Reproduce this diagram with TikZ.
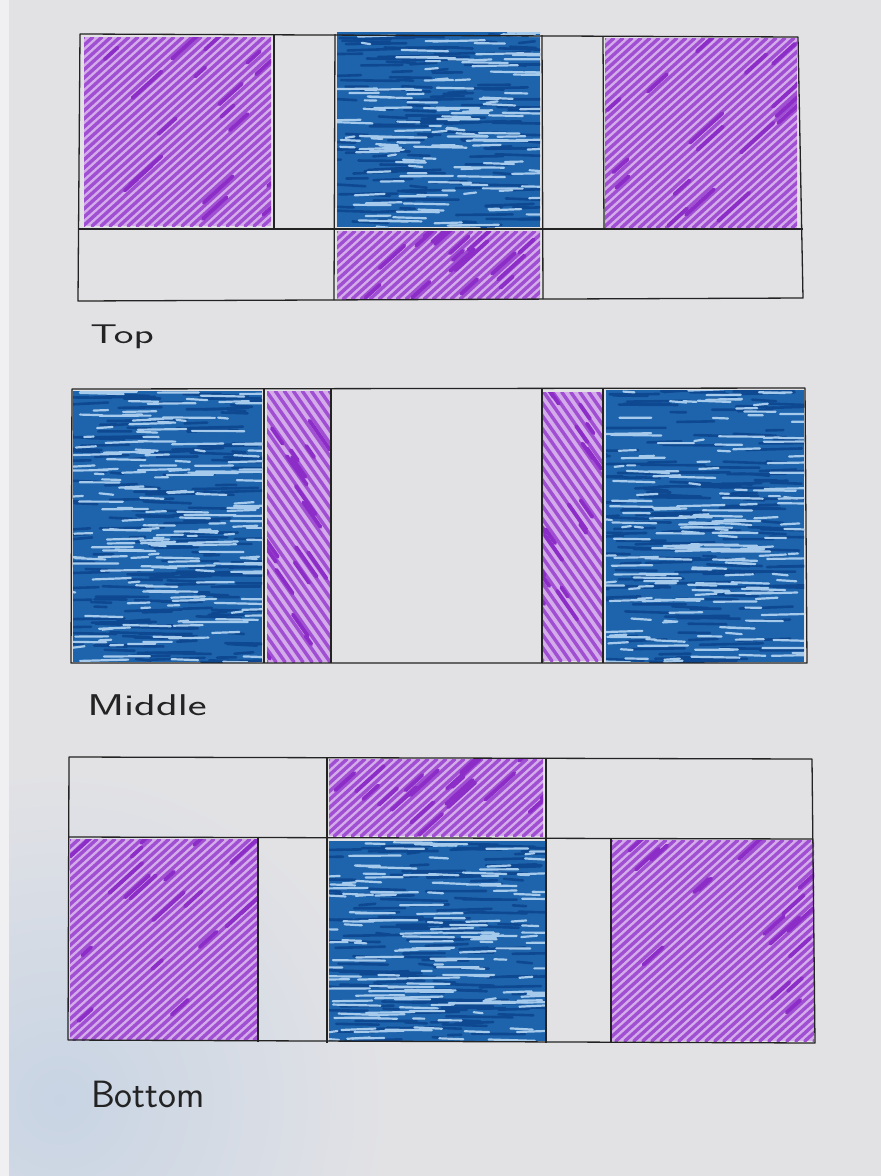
\documentclass[tikz,border=0pt]{standalone}
\usetikzlibrary{calc}
\definecolor{paper}{RGB}{226,226,229}
\definecolor{paperblue}{RGB}{200,212,228}
\definecolor{margin}{RGB}{240,240,243}
\definecolor{bluebase}{RGB}{30,100,172}
\definecolor{bluehi}{RGB}{165,202,236}
\definecolor{bluedk}{RGB}{14,72,145}
\definecolor{purlight}{RGB}{212,172,234}
\definecolor{purdark}{RGB}{160,78,210}
\definecolor{purdeep}{RGB}{140,45,200}
\definecolor{ink}{RGB}{35,35,35}
\tikzset{
  inkline/.style={draw=ink, line width=1.3pt, line join=round},
  hatchline/.style={purdark, line width=3.4pt, line cap=round},
  label/.style={text=ink, font=\sffamily, inner sep=0pt},
}
% purple hatching: x1 y1 x2 y2 ratio(run/rise, sign = direction)
\newcommand\phatch[5]{%
  \begin{scope}
    \clip (#1,#2) rectangle (#3,#4);
    \fill[purlight] (#1,#2) rectangle (#3,#4);
    \pgfmathsetmacro\hh{#4-#2}
    \pgfmathsetmacro\rr{#5}
    \pgfmathsetmacro\xs{#1-max(\rr,0)*\hh}
    \pgfmathsetmacro\xe{#3+max(-\rr,0)*\hh}
    \pgfmathtruncatemacro\nn{(\xe-\xs)/9}
    \foreach \k in {0,...,\nn}{
      \pgfmathsetmacro\xa{\xs+\k*9}
      \draw[hatchline] (\xa,#4) -- ({\xa+\rr*\hh},#2);
    }
    \foreach \k in {1,...,18}{
      \pgfmathsetmacro\px{#1+rnd*(#3-#1)}
      \pgfmathsetmacro\py{#2+rnd*(#4-#2)}
      \pgfmathsetmacro\pl{8+rnd*22}
      \draw[purdeep, line width=3.8pt, line cap=round] (\px,\py) -- ++({\rr*\pl},{-\pl});
    }
  \end{scope}}
% blue scribble: x1 y1 x2 y2 count
\newcommand\bscrib[5]{%
  \begin{scope}
    \clip (#1,#2) rectangle (#3,#4);
    \fill[bluebase] (#1,#2) rectangle (#3,#4);
    \foreach \k in {1,...,#5}{
      \pgfmathsetmacro\bx{#1-20+rnd*(#3-#1)}
      \pgfmathsetmacro\by{#2+rnd*(#4-#2)}
      \pgfmathsetmacro\bl{12+rnd*55}
      \draw[bluedk, line width=2.6pt, line cap=round] (\bx,\by) -- ++(\bl,{(rnd-0.5)*4});
    }
    \foreach \k in {1,...,#5}{
      \pgfmathsetmacro\bx{#1-10+rnd*(#3-#1)}
      \pgfmathsetmacro\by{#2+rnd*(#4-#2)}
      \pgfmathsetmacro\bl{8+rnd*45}
      \draw[bluehi, line width=2.2pt, line cap=round] (\bx,\by) -- ++(\bl,{(rnd-0.5)*3});
    }
  \end{scope}}
\begin{document}
\begin{tikzpicture}[x=1pt,y=-1pt]
\pgfmathsetseed{7}
\useasboundingbox (0,0) rectangle (881,1176);
% paper
\fill[paper] (0,0) rectangle (881,1176);
\shade[inner color=paperblue, outer color=paper] (60,1100) circle[radius=330];
\fill[margin] (0,0) rectangle (9,1176);

% ---------- Top panel fills ----------
\phatch{84}{37}{271}{226}{1.1}
\bscrib{337}{32}{540}{227}{140}
\phatch{337}{231}{540}{299}{1.1}
\phatch{605}{38}{797}{228}{1.1}

% ---------- Middle panel fills ----------
\bscrib{73}{391}{262}{662}{180}
\phatch{267}{391}{331}{662}{-0.7}
\phatch{543}{392}{602}{661}{-0.7}
\bscrib{606}{390}{804}{662}{180}

% ---------- Bottom panel fills ----------
\phatch{329}{759}{543}{836}{1.1}
\phatch{70}{839}{257}{1040}{1.1}
\bscrib{329}{841}{545}{1041}{150}
\phatch{612}{840}{814}{1041}{1.1}

% ---------- Top panel lines ----------
\draw[inkline] (80,34) -- (798,37) -- (803,298) -- (78,301) -- cycle;
\draw[inkline] (78,229) -- (803,229);
\draw[inkline] (274,34) -- (274,229);
\draw[inkline] (335,34) -- (334,300);
\draw[inkline] (542,35) -- (543,299);
\draw[inkline] (603,36) -- (604,229);

% ---------- Middle panel lines ----------
\draw[inkline] (72,389) -- (805,388) -- (807,663) -- (71,663) -- cycle;
\draw[inkline] (264,389) -- (264,663);
\draw[inkline] (331,389) -- (331,663);
\draw[inkline] (542,388) -- (542,663);
\draw[inkline] (603,388) -- (603,663);

% ---------- Bottom panel lines ----------
\draw[inkline] (69,757) -- (812,759) -- (815,1043) -- (68,1040) -- cycle;
\draw[inkline] (69,837) -- (812,839);
\draw[inkline] (258,838) -- (258,1042);
\draw[inkline] (327,757) -- (327,1043);
\draw[inkline] (546,758) -- (546,1043);
\draw[inkline] (611,839) -- (611,1043);

% ---------- Labels ----------
\node[label, anchor=base west, font=\sffamily\fontsize{27}{27}\selectfont, xscale=1.55] (ltop) at (90,343) {Top};
\node[label, anchor=base west, font=\sffamily\fontsize{30}{30}\selectfont, xscale=1.5] (lmid) at (87,715) {Middle};
\node[label, anchor=base west, font=\sffamily\fontsize{38}{38}\selectfont] (lbot) at (91,1107) {Bottom};
\end{tikzpicture}
\end{document}
